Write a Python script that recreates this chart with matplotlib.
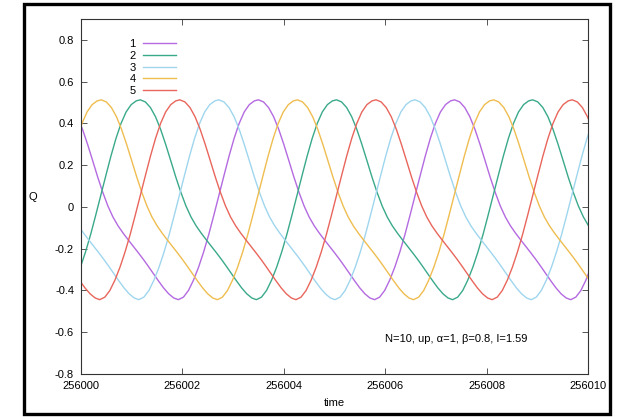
import matplotlib
matplotlib.use("Agg")
import matplotlib.pyplot as plt
from matplotlib.patches import Rectangle

plt.rcParams['font.family'] = ['Liberation Sans', 'DejaVu Sans']
plt.rcParams['axes.unicode_minus'] = False

T0 = 256000

# series 1 (purple)
t1 = [-0.37, -0.27, -0.17, -0.07, 0.03, 0.13, 0.23, 0.33, 0.43, 0.53, 0.63, 0.73, 0.83, 0.93, 1.03, 1.13, 1.23, 1.33, 1.43, 1.53, 1.63, 1.73, 1.83, 1.92,
      2.02, 2.12, 2.22, 2.32, 2.42, 2.52, 2.62, 2.72, 2.82, 2.92, 3.02, 3.12, 3.22, 3.32, 3.42,
      3.50, 3.60, 3.70, 3.80, 3.90, 4.00, 4.10, 4.20, 4.30, 4.40, 4.50, 4.60, 4.70, 4.80, 4.90, 5.00, 5.10, 5.20, 5.30, 5.40, 5.50, 5.60, 5.70, 5.79,
      5.89, 5.99, 6.09, 6.19, 6.29, 6.39, 6.49, 6.59, 6.69, 6.79, 6.89, 6.99, 7.09, 7.19, 7.29,
      7.37, 7.47, 7.57, 7.67, 7.77, 7.87, 7.97, 8.07, 8.17, 8.27, 8.37, 8.47, 8.57, 8.67, 8.77, 8.87, 8.97, 9.07, 9.17, 9.27, 9.37, 9.47, 9.57, 9.66,
      9.76, 9.86, 9.96, 10.06]
q1 = [0.513, 0.503, 0.476, 0.432, 0.372, 0.300, 0.222, 0.143, 0.070, 0.005, -0.048, -0.090, -0.125, -0.157, -0.188, -0.219, -0.251, -0.285, -0.320, -0.355, -0.388, -0.416, -0.436, -0.444,
      -0.432, -0.400, -0.350, -0.288, -0.215, -0.132, -0.040, 0.055, 0.150, 0.243, 0.328, 0.400, 0.455, 0.490, 0.508,
      0.513, 0.503, 0.476, 0.432, 0.372, 0.300, 0.222, 0.143, 0.070, 0.005, -0.048, -0.090, -0.125, -0.157, -0.188, -0.219, -0.251, -0.285, -0.320, -0.355, -0.388, -0.416, -0.436, -0.444,
      -0.432, -0.400, -0.350, -0.288, -0.215, -0.132, -0.040, 0.055, 0.150, 0.243, 0.328, 0.400, 0.455, 0.490, 0.508,
      0.513, 0.503, 0.476, 0.432, 0.372, 0.300, 0.222, 0.143, 0.070, 0.005, -0.048, -0.090, -0.125, -0.157, -0.188, -0.219, -0.251, -0.285, -0.320, -0.355, -0.388, -0.416, -0.436, -0.444,
      -0.432, -0.400, -0.350, -0.288]

# series 2 (green)
t2 = [-0.41,
      -0.31, -0.21, -0.11, -0.01, 0.09, 0.19, 0.29, 0.39, 0.49, 0.59, 0.69, 0.79, 0.89, 0.99, 1.09,
      1.17, 1.27, 1.37, 1.47, 1.57, 1.67, 1.77, 1.87, 1.97, 2.07, 2.17, 2.27, 2.37, 2.47, 2.57, 2.67, 2.77, 2.87, 2.97, 3.07, 3.17, 3.27, 3.37, 3.46,
      3.56, 3.66, 3.76, 3.86, 3.96, 4.06, 4.16, 4.26, 4.36, 4.46, 4.56, 4.66, 4.76, 4.86, 4.96,
      5.04, 5.14, 5.24, 5.34, 5.44, 5.54, 5.64, 5.74, 5.84, 5.94, 6.04, 6.14, 6.24, 6.34, 6.44, 6.54, 6.64, 6.74, 6.84, 6.94, 7.04, 7.14, 7.24, 7.33,
      7.43, 7.53, 7.63, 7.73, 7.83, 7.93, 8.03, 8.13, 8.23, 8.33, 8.43, 8.53, 8.63, 8.73, 8.83,
      8.91, 9.01, 9.11, 9.21, 9.31, 9.41, 9.51, 9.61, 9.71, 9.81, 9.91, 10.01, 10.11]
q2 = [-0.444,
      -0.432, -0.400, -0.350, -0.288, -0.215, -0.132, -0.040, 0.055, 0.150, 0.243, 0.328, 0.400, 0.455, 0.490, 0.508,
      0.513, 0.503, 0.476, 0.432, 0.372, 0.300, 0.222, 0.143, 0.070, 0.005, -0.048, -0.090, -0.125, -0.157, -0.188, -0.219, -0.251, -0.285, -0.320, -0.355, -0.388, -0.416, -0.436, -0.444,
      -0.432, -0.400, -0.350, -0.288, -0.215, -0.132, -0.040, 0.055, 0.150, 0.243, 0.328, 0.400, 0.455, 0.490, 0.508,
      0.513, 0.503, 0.476, 0.432, 0.372, 0.300, 0.222, 0.143, 0.070, 0.005, -0.048, -0.090, -0.125, -0.157, -0.188, -0.219, -0.251, -0.285, -0.320, -0.355, -0.388, -0.416, -0.436, -0.444,
      -0.432, -0.400, -0.350, -0.288, -0.215, -0.132, -0.040, 0.055, 0.150, 0.243, 0.328, 0.400, 0.455, 0.490, 0.508,
      0.513, 0.503, 0.476, 0.432, 0.372, 0.300, 0.222, 0.143, 0.070, 0.005, -0.048, -0.090, -0.125]

# series 3 (light blue)
t3 = [-0.05, 0.05, 0.15, 0.25, 0.35, 0.45, 0.55, 0.65, 0.75, 0.85, 0.95, 1.05, 1.14,
      1.24, 1.34, 1.44, 1.54, 1.64, 1.74, 1.84, 1.94, 2.04, 2.14, 2.24, 2.34, 2.44, 2.54, 2.64,
      2.72, 2.82, 2.92, 3.02, 3.12, 3.22, 3.32, 3.42, 3.52, 3.62, 3.72, 3.82, 3.92, 4.02, 4.12, 4.22, 4.32, 4.42, 4.52, 4.62, 4.72, 4.82, 4.92, 5.01,
      5.11, 5.21, 5.31, 5.41, 5.51, 5.61, 5.71, 5.81, 5.91, 6.01, 6.11, 6.21, 6.31, 6.41, 6.51,
      6.59, 6.69, 6.79, 6.89, 6.99, 7.09, 7.19, 7.29, 7.39, 7.49, 7.59, 7.69, 7.79, 7.89, 7.99, 8.09, 8.19, 8.29, 8.39, 8.49, 8.59, 8.69, 8.79, 8.88,
      8.98, 9.08, 9.18, 9.28, 9.38, 9.48, 9.58, 9.68, 9.78, 9.88, 9.98, 10.08]
q3 = [-0.090, -0.125, -0.157, -0.188, -0.219, -0.251, -0.285, -0.320, -0.355, -0.388, -0.416, -0.436, -0.444,
      -0.432, -0.400, -0.350, -0.288, -0.215, -0.132, -0.040, 0.055, 0.150, 0.243, 0.328, 0.400, 0.455, 0.490, 0.508,
      0.513, 0.503, 0.476, 0.432, 0.372, 0.300, 0.222, 0.143, 0.070, 0.005, -0.048, -0.090, -0.125, -0.157, -0.188, -0.219, -0.251, -0.285, -0.320, -0.355, -0.388, -0.416, -0.436, -0.444,
      -0.432, -0.400, -0.350, -0.288, -0.215, -0.132, -0.040, 0.055, 0.150, 0.243, 0.328, 0.400, 0.455, 0.490, 0.508,
      0.513, 0.503, 0.476, 0.432, 0.372, 0.300, 0.222, 0.143, 0.070, 0.005, -0.048, -0.090, -0.125, -0.157, -0.188, -0.219, -0.251, -0.285, -0.320, -0.355, -0.388, -0.416, -0.436, -0.444,
      -0.432, -0.400, -0.350, -0.288, -0.215, -0.132, -0.040, 0.055, 0.150, 0.243, 0.328, 0.400]

# series 4 (orange)
t4 = [-1.18,
      -1.08, -0.98, -0.88, -0.78, -0.68, -0.58, -0.48, -0.38, -0.28, -0.18, -0.08, 0.02, 0.12, 0.22, 0.32,
      0.40, 0.50, 0.60, 0.70, 0.80, 0.90, 1.00, 1.10, 1.20, 1.30, 1.40, 1.50, 1.60, 1.70, 1.80, 1.90, 2.00, 2.10, 2.20, 2.30, 2.40, 2.50, 2.60, 2.69,
      2.79, 2.89, 2.99, 3.09, 3.19, 3.29, 3.39, 3.49, 3.59, 3.69, 3.79, 3.89, 3.99, 4.09, 4.19,
      4.27, 4.37, 4.47, 4.57, 4.67, 4.77, 4.87, 4.97, 5.07, 5.17, 5.27, 5.37, 5.47, 5.57, 5.67, 5.77, 5.87, 5.97, 6.07, 6.17, 6.27, 6.37, 6.47, 6.56,
      6.66, 6.76, 6.86, 6.96, 7.06, 7.16, 7.26, 7.36, 7.46, 7.56, 7.66, 7.76, 7.86, 7.96, 8.06,
      8.14, 8.24, 8.34, 8.44, 8.54, 8.64, 8.74, 8.84, 8.94, 9.04, 9.14, 9.24, 9.34, 9.44, 9.54, 9.64, 9.74, 9.84, 9.94, 10.04]
q4 = [-0.444,
      -0.432, -0.400, -0.350, -0.288, -0.215, -0.132, -0.040, 0.055, 0.150, 0.243, 0.328, 0.400, 0.455, 0.490, 0.508,
      0.513, 0.503, 0.476, 0.432, 0.372, 0.300, 0.222, 0.143, 0.070, 0.005, -0.048, -0.090, -0.125, -0.157, -0.188, -0.219, -0.251, -0.285, -0.320, -0.355, -0.388, -0.416, -0.436, -0.444,
      -0.432, -0.400, -0.350, -0.288, -0.215, -0.132, -0.040, 0.055, 0.150, 0.243, 0.328, 0.400, 0.455, 0.490, 0.508,
      0.513, 0.503, 0.476, 0.432, 0.372, 0.300, 0.222, 0.143, 0.070, 0.005, -0.048, -0.090, -0.125, -0.157, -0.188, -0.219, -0.251, -0.285, -0.320, -0.355, -0.388, -0.416, -0.436, -0.444,
      -0.432, -0.400, -0.350, -0.288, -0.215, -0.132, -0.040, 0.055, 0.150, 0.243, 0.328, 0.400, 0.455, 0.490, 0.508,
      0.513, 0.503, 0.476, 0.432, 0.372, 0.300, 0.222, 0.143, 0.070, 0.005, -0.048, -0.090, -0.125, -0.157, -0.188, -0.219, -0.251, -0.285, -0.320, -0.355]

# series 5 (red)
t5 = [-0.12, -0.02, 0.08, 0.18, 0.28, 0.37,
      0.47, 0.57, 0.67, 0.77, 0.87, 0.97, 1.07, 1.17, 1.27, 1.37, 1.47, 1.57, 1.67, 1.77, 1.87,
      1.95, 2.05, 2.15, 2.25, 2.35, 2.45, 2.55, 2.65, 2.75, 2.85, 2.95, 3.05, 3.15, 3.25, 3.35, 3.45, 3.55, 3.65, 3.75, 3.85, 3.95, 4.05, 4.15, 4.24,
      4.34, 4.44, 4.54, 4.64, 4.74, 4.84, 4.94, 5.04, 5.14, 5.24, 5.34, 5.44, 5.54, 5.64, 5.74,
      5.82, 5.92, 6.02, 6.12, 6.22, 6.32, 6.42, 6.52, 6.62, 6.72, 6.82, 6.92, 7.02, 7.12, 7.22, 7.32, 7.42, 7.52, 7.62, 7.72, 7.82, 7.92, 8.02, 8.11,
      8.21, 8.31, 8.41, 8.51, 8.61, 8.71, 8.81, 8.91, 9.01, 9.11, 9.21, 9.31, 9.41, 9.51, 9.61,
      9.69, 9.79, 9.89, 9.99, 10.09]
q5 = [-0.320, -0.355, -0.388, -0.416, -0.436, -0.444,
      -0.432, -0.400, -0.350, -0.288, -0.215, -0.132, -0.040, 0.055, 0.150, 0.243, 0.328, 0.400, 0.455, 0.490, 0.508,
      0.513, 0.503, 0.476, 0.432, 0.372, 0.300, 0.222, 0.143, 0.070, 0.005, -0.048, -0.090, -0.125, -0.157, -0.188, -0.219, -0.251, -0.285, -0.320, -0.355, -0.388, -0.416, -0.436, -0.444,
      -0.432, -0.400, -0.350, -0.288, -0.215, -0.132, -0.040, 0.055, 0.150, 0.243, 0.328, 0.400, 0.455, 0.490, 0.508,
      0.513, 0.503, 0.476, 0.432, 0.372, 0.300, 0.222, 0.143, 0.070, 0.005, -0.048, -0.090, -0.125, -0.157, -0.188, -0.219, -0.251, -0.285, -0.320, -0.355, -0.388, -0.416, -0.436, -0.444,
      -0.432, -0.400, -0.350, -0.288, -0.215, -0.132, -0.040, 0.055, 0.150, 0.243, 0.328, 0.400, 0.455, 0.490, 0.508,
      0.513, 0.503, 0.476, 0.432, 0.372]

labels = ['1', '2', '3', '4', '5']
colors = ['#b46ae0', '#3aa98a', '#9fd6ee', '#efbd50', '#e8665c']
times = [t1, t2, t3, t4, t5]
series = [q1, q2, q3, q4, q5]

xticks = [256000, 256002, 256004, 256006, 256008, 256010]
yticks = [-0.8, -0.6, -0.4, -0.2, 0, 0.2, 0.4, 0.6, 0.8]
ylabels = ['-0.8', '-0.6', '-0.4', '-0.2', '0', '0.2', '0.4', '0.6', '0.8']

fig = plt.figure(figsize=(6.22, 4.17), dpi=100)
ax = fig.add_axes([0.1302, 0.1031, 0.8151, 0.8513])

for t, q, c, lab in zip(times, series, colors, labels):
    ax.plot([T0 + v for v in t], q, color=c, lw=1.0, label=lab)

ax.set_xlim(256000, 256010)
ax.set_ylim(-0.8, 0.9)
ax.set_xticks(xticks)
ax.set_xticklabels([str(v) for v in xticks])
ax.set_yticks(yticks)
ax.set_yticklabels(ylabels)
ax.tick_params(direction='in', top=True, right=True, length=4, width=0.7,
               color='#555555', labelsize=8, pad=5)
for sp in ax.spines.values():
    sp.set_color('#333333')
    sp.set_linewidth(0.8)

ax.text(256006.0, -0.632, 'N=10, up, \u03b1=1, \u03b2=0.8, I=1.59', fontsize=8,
        va='center', ha='left')

leg = ax.legend(loc='upper left', bbox_to_anchor=(0.08, 0.965), frameon=False,
                markerfirst=False, fontsize=8, handlelength=2.9,
                handletextpad=0.7, labelspacing=0.15, borderpad=0.2)

fig.text(33 / 622, (417 - 197) / 417, 'Q', fontsize=8, ha='center', va='center')
fig.text(334 / 622, (417 - 403) / 417, 'time', fontsize=8, ha='center', va='center')

fig.patches.append(Rectangle((0.0378, 0.006), 0.9429, 0.9856, transform=fig.transFigure,
                             fill=False, edgecolor='black', linewidth=2.4))

fig.savefig('out.png', dpi=100)
